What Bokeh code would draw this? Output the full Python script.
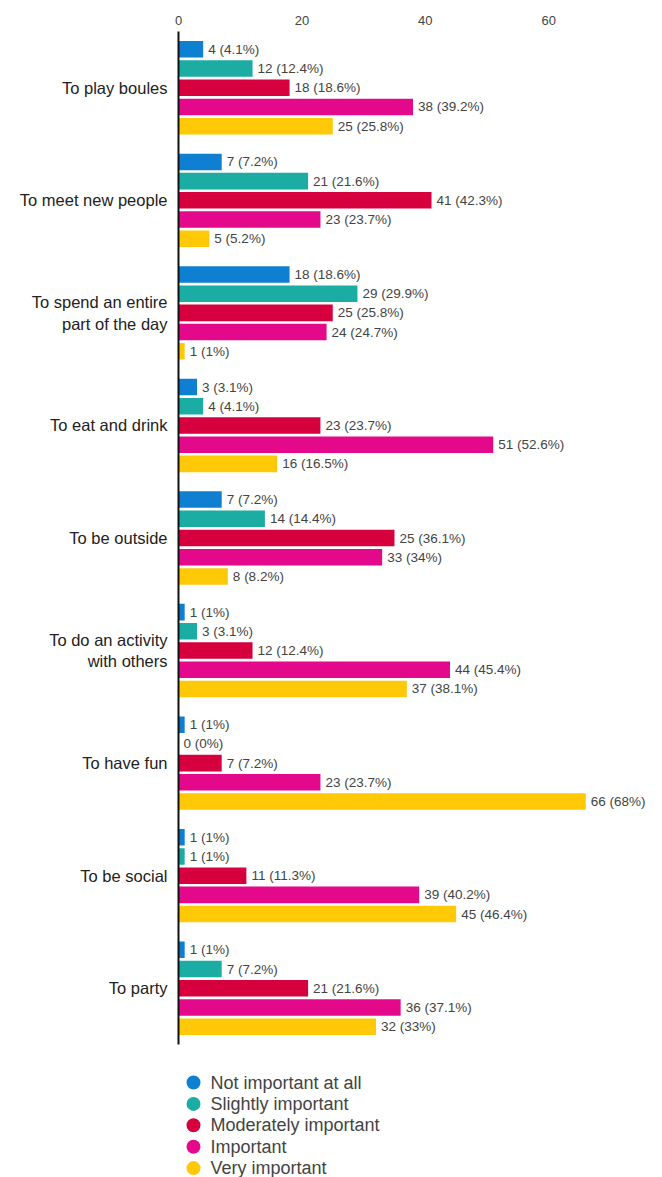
from bokeh.plotting import figure
from bokeh.models import ColumnDataSource, FactorRange, Range1d, FixedTicker
from bokeh.transform import dodge
from bokeh.layouts import column
from bokeh.core.properties import value
from bokeh.embed import file_html
from bokeh.resources import INLINE

categories = [
    "To play boules",
    "To meet new people",
    "To spend an entire\npart of the day",
    "To eat and drink",
    "To be outside",
    "To do an activity\nwith others",
    "To have fun",
    "To be social",
    "To party",
]
series = ["Not important at all", "Slightly important", "Moderately important",
          "Important", "Very important"]
colors = ["#0f7fd2", "#1bada4", "#d6003f", "#e4088b", "#ffc907"]

not_important = [4, 7, 18, 3, 7, 1, 1, 1, 1]
slightly = [12, 21, 29, 4, 14, 3, 0, 1, 7]
moderately = [18, 41, 25, 23, 35, 12, 7, 11, 21]
important = [38, 23, 24, 51, 33, 44, 23, 39, 36]
very = [25, 5, 1, 16, 8, 37, 66, 45, 32]

not_important_lbl = ["4 (4.1%)", "7 (7.2%)", "18 (18.6%)", "3 (3.1%)", "7 (7.2%)", "1 (1%)", "1 (1%)", "1 (1%)", "1 (1%)"]
slightly_lbl = ["12 (12.4%)", "21 (21.6%)", "29 (29.9%)", "4 (4.1%)", "14 (14.4%)", "3 (3.1%)", "0 (0%)", "1 (1%)", "7 (7.2%)"]
moderately_lbl = ["18 (18.6%)", "41 (42.3%)", "25 (25.8%)", "23 (23.7%)", "25 (36.1%)", "12 (12.4%)", "7 (7.2%)", "11 (11.3%)", "21 (21.6%)"]
important_lbl = ["38 (39.2%)", "23 (23.7%)", "24 (24.7%)", "51 (52.6%)", "33 (34%)", "44 (45.4%)", "23 (23.7%)", "39 (40.2%)", "36 (37.1%)"]
very_lbl = ["25 (25.8%)", "5 (5.2%)", "1 (1%)", "16 (16.5%)", "8 (8.2%)", "37 (38.1%)", "66 (68%)", "45 (46.4%)", "32 (33%)"]

x_ticks = [0, 20, 40, 60]

values = [not_important, slightly, moderately, important, very]
labels = [not_important_lbl, slightly_lbl, moderately_lbl, important_lbl, very_lbl]

FONT = "Liberation Sans"

p = figure(width=662, height=1060, output_backend="svg", toolbar_location=None,
           y_range=FactorRange(factors=categories[::-1], range_padding=0),
           x_range=Range1d(0, 76), x_axis_location="above",
           min_border_left=178, min_border_right=15, min_border_top=31, min_border_bottom=16)
p.outline_line_color = None
p.grid.visible = False
p.frame_align = False

step = 0.1707
for i, (vals, lbls, col) in enumerate(zip(values, labels, colors)):
    src = ColumnDataSource(dict(cat=categories, v=vals, lbl=lbls))
    off = (2 - i) * step
    p.hbar(y=dodge("cat", off, range=p.y_range), right="v", left=0, height=0.147,
           source=src, fill_color=col, line_color=None)
    p.text(x="v", y=dodge("cat", off, range=p.y_range), text="lbl", source=src,
           x_offset=5, text_baseline="middle", text_align="left",
           text_font=value(FONT), text_font_size="13.5px", text_color="#444444")

xa = p.xaxis[0]
xa.ticker = FixedTicker(ticks=x_ticks)
xa.axis_line_color = None
xa.major_tick_line_color = None
xa.minor_tick_line_color = None
xa.major_tick_out = 0
xa.major_label_standoff = 7
xa.major_label_text_font = FONT
xa.major_label_text_font_size = "13px"
xa.major_label_text_color = "#444444"

ya = p.yaxis[0]
ya.axis_line_color = "#111111"
ya.axis_line_width = 2
ya.major_tick_line_color = None
ya.minor_tick_line_color = None
ya.major_tick_out = 0
ya.major_label_standoff = 11
ya.major_label_text_font = FONT
ya.major_label_text_font_size = "16.5px"
ya.major_label_text_color = "#222222"

# legend as a separate small figure
lg = figure(width=662, height=117, output_backend="svg", toolbar_location=None,
            x_range=Range1d(0, 662), y_range=Range1d(117, 0),
            min_border_left=0, min_border_right=0, min_border_top=0, min_border_bottom=0)
lg.outline_line_color = None
lg.grid.visible = False
lg.axis.visible = False
lg.frame_align = False
row_y = [22 + 21.4 * k for k in range(len(series))]
lsrc = ColumnDataSource(dict(x=[193] * len(series), tx=[210] * len(series), y=row_y,
                             name=series, color=colors))
lg.scatter(x="x", y="y", source=lsrc, marker="circle", size=14, fill_color="color", line_color=None)
lg.text(x="tx", y="y", text="name", source=lsrc, text_baseline="middle", text_align="left",
        text_font=value(FONT), text_font_size="18px", text_color="#444444")

layout = column(p, lg, spacing=0)
open("out.html", "w").write(file_html(layout, INLINE))
